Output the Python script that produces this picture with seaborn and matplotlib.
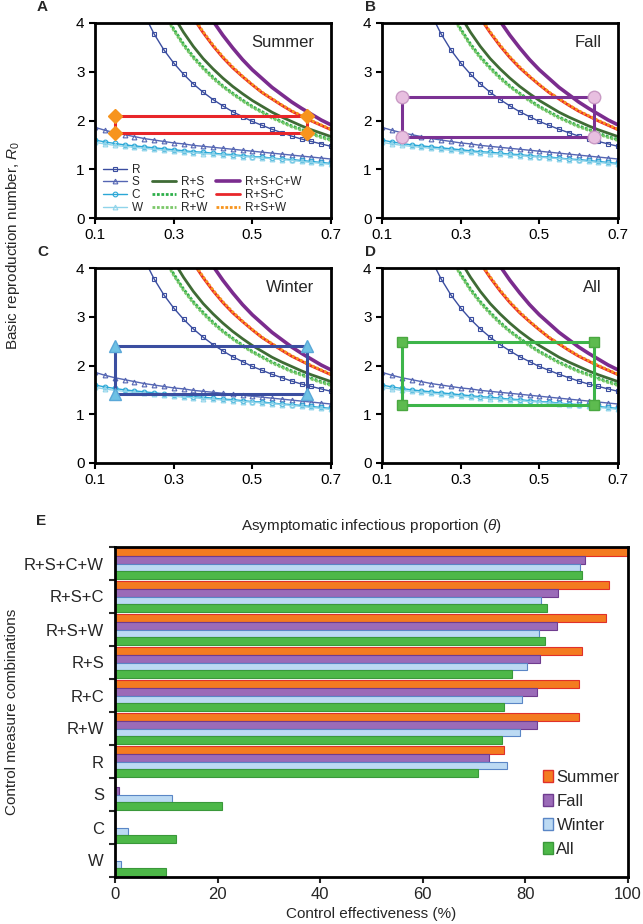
import numpy as np
import pandas as pd
import matplotlib
matplotlib.use("Agg")
from matplotlib import pyplot as plt
from matplotlib.lines import Line2D
import seaborn as sns

# ---- panels A-D: R0 against asymptomatic proportion ----
theta = [0.1, 0.125, 0.15, 0.175, 0.2, 0.225, 0.25, 0.275, 0.3, 0.325, 0.35, 0.375, 0.4,
         0.425, 0.45, 0.475, 0.5, 0.525, 0.55, 0.575, 0.6, 0.625, 0.65, 0.675, 0.7]
N = None
r_only = [N, N, N, N, N, 4.18, 3.78, 3.45, 3.18, 2.95, 2.75, 2.58, 2.43, 2.30, 2.18, 2.08, 1.98,
          1.90, 1.82, 1.75, 1.68, 1.62, 1.57, 1.52, 1.47]
s_only = [1.86, 1.80, 1.75, 1.71, 1.67, 1.63, 1.60, 1.57, 1.54, 1.52, 1.49, 1.47, 1.45, 1.43,
          1.41, 1.39, 1.37, 1.35, 1.33, 1.31, 1.29, 1.27, 1.25, 1.23, 1.21]
c_only = [1.60, 1.56, 1.53, 1.50, 1.48, 1.46, 1.44, 1.42, 1.40, 1.38, 1.36, 1.35, 1.33, 1.31,
          1.30, 1.28, 1.26, 1.25, 1.23, 1.21, 1.20, 1.18, 1.16, 1.14, 1.12]
w_only = [1.55, 1.52, 1.49, 1.47, 1.45, 1.43, 1.41, 1.39, 1.37, 1.35, 1.34, 1.32, 1.31, 1.29,
          1.28, 1.26, 1.25, 1.23, 1.22, 1.20, 1.18, 1.16, 1.14, 1.12, 1.10]
rs = [N] * 8 + [4.14, 3.81, 3.52, 3.27, 3.06, 2.87, 2.70, 2.55, 2.41, 2.29, 2.17, 2.07, 1.98,
                1.89, 1.81, 1.74, 1.67]
rc = [N] * 7 + [4.24, 3.88, 3.57, 3.31, 3.09, 2.89, 2.71, 2.56, 2.42, 2.29, 2.18, 2.07, 1.98,
                1.89, 1.82, 1.74, 1.67, 1.61]
rw = [N] * 7 + [4.20, 3.85, 3.54, 3.28, 3.06, 2.86, 2.69, 2.54, 2.40, 2.27, 2.16, 2.05, 1.96,
                1.87, 1.80, 1.72, 1.65, 1.59]
rsc = [N] * 10 + [4.10, 3.80, 3.53, 3.29, 3.08, 2.90, 2.73, 2.57, 2.44, 2.31, 2.19, 2.09, 1.99,
                  1.90, 1.81]
rsw = [N] * 10 + [4.12, 3.82, 3.55, 3.31, 3.10, 2.91, 2.74, 2.58, 2.45, 2.32, 2.20, 2.10, 2.00,
                  1.91, 1.82]
rscw = [N] * 12 + [4.04, 3.75, 3.49, 3.25, 3.04, 2.86, 2.68, 2.53, 2.38, 2.25, 2.13, 2.01, 1.91]

seasons = ["Summer", "Fall", "Winter", "All"]
panel_letters = ["A", "B", "C", "D"]
box_theta = [0.15, 0.64]
box_low = [1.74, 1.67, 1.42, 1.20]
box_high = [2.10, 2.48, 2.41, 2.48]

# ---- panel E: control effectiveness ----
combos = ["R+S+C+W", "R+S+C", "R+S+W", "R+S", "R+C", "R+W", "R", "S", "C", "W"]
eff_summer = [100, 96.2, 95.8, 91.0, 90.4, 90.4, 75.8, 0, 0, 0]
eff_fall = [91.7, 86.4, 86.2, 82.8, 82.3, 82.3, 72.9, 0.7, 0, 0]
eff_winter = [90.7, 83.0, 82.6, 80.4, 79.3, 79.0, 76.5, 11.2, 2.5, 1.2]
eff_all = [91.1, 84.3, 83.9, 77.4, 75.8, 75.4, 70.7, 20.8, 11.8, 9.9]

sns.set_style("ticks")
plt.rcParams["font.family"] = ["Liberation Sans", "DejaVu Sans"]
plt.rcParams["mathtext.fontset"] = "custom"
plt.rcParams["mathtext.it"] = "Liberation Sans:italic"
plt.rcParams["mathtext.rm"] = "Liberation Sans"

series = {"R": r_only, "S": s_only, "C": c_only, "W": w_only, "R+S": rs, "R+C": rc,
          "R+W": rw, "R+S+C": rsc, "R+S+W": rsw, "R+S+C+W": rscw}
df = pd.concat([pd.DataFrame({"theta": theta, "R0": vals, "combo": name})
                for name, vals in series.items()]).dropna()

dots = (0, (1, 0.6))
styles = {
    "R": dict(color="#3b4ea0", lw=1.0, marker="s", ms=3.2),
    "S": dict(color="#5566b3", lw=1.0, marker="^", ms=3.4),
    "C": dict(color="#2aa7d6", lw=1.0, marker="o", ms=3.4),
    "W": dict(color="#8fd4ea", lw=1.0, marker="^", ms=3.4),
    "R+S": dict(color="#3f6b35", lw=2.0, ls="-"),
    "R+C": dict(color="#2eaf4a", lw=2.0, ls=dots),
    "R+W": dict(color="#7cc86a", lw=2.0, ls=dots),
    "R+S+C": dict(color="#e8262a", lw=2.0, ls="-"),
    "R+S+W": dict(color="#f7941d", lw=2.0, ls=dots),
    "R+S+C+W": dict(color="#7b2c8e", lw=2.6, ls="-"),
}
box_styles = [
    dict(line="#e8262a", marker="D", mc="#f7941d", mec="#f7941d", ms=7),
    dict(line="#7b3294", marker="o", mc="#e8bfe0", mec="#c99ac4", ms=9),
    dict(line="#3b4ea0", marker="^", mc="#6ec1e4", mec="#5aa8d8", ms=8),
    dict(line="#3db54a", marker="s", mc="#5dbb4f", mec="#4aa840", ms=7),
]


def line_kws(name):
    st = dict(styles[name])
    kws = dict(color=st["color"], linewidth=st["lw"], linestyle=st.get("ls", "-"))
    if "marker" in st:
        kws.update(marker=st["marker"], markersize=st["ms"], markerfacecolor="none",
                   markeredgecolor=st["color"], markeredgewidth=0.8)
    return kws


W, H = 643, 924
fig = plt.figure(figsize=(W / 100, H / 100), dpi=100)
lefts = [95, 382, 95, 382]
bottoms = [218, 218, 463, 463]
letter_pos = [(37, 7), (365, 7), (37, 252), (365, 252)]
axes = []
for i in range(4):
    ax = fig.add_axes([lefts[i] / W, (H - bottoms[i]) / H, 236 / W, 195 / H])
    axes.append(ax)
    for name in series:
        sub = df[df.combo == name]
        sns.lineplot(data=sub, x="theta", y="R0", ax=ax, legend=False, **line_kws(name))
    bs = box_styles[i]
    x0, x1 = box_theta
    lo, hi = box_low[i], box_high[i]
    ax.plot([x0, x1, x1, x0, x0], [lo, lo, hi, hi, lo], color=bs["line"], lw=2.2, zorder=5)
    ax.plot([x0, x1, x1, x0], [lo, lo, hi, hi], ls="none", marker=bs["marker"],
            ms=bs["ms"], mfc=bs["mc"], mec=bs["mec"], zorder=6)
    ax.set_xlim(0.1, 0.7)
    ax.set_ylim(0, 4)
    ax.set_xticks([0.1, 0.3, 0.5, 0.7])
    ax.set_xticklabels(["0.1", "0.3", "0.5", "0.7"])
    ax.set_yticks([0, 1, 2, 3, 4])
    ax.set_xlabel("")
    ax.set_ylabel("")
    ax.tick_params(labelsize=11, width=1.5, length=4, direction="out", colors="black")
    for sp in ax.spines.values():
        sp.set_visible(True)
        sp.set_linewidth(2)
        sp.set_color("black")
    ax.text(0.93, 0.9, seasons[i], transform=ax.transAxes, ha="right", va="center", fontsize=12)
    lx, ly = letter_pos[i]
    fig.text(lx / W, 1 - ly / H, panel_letters[i], fontsize=11, fontweight="bold",
             ha="left", va="center")

# legend for panel A
blank = Line2D([], [], color="none")
h = {name: Line2D([], [], **line_kws(name)) for name in series}
handles = [h["R"], h["S"], h["C"], h["W"],
           blank, h["R+S"], h["R+C"], h["R+W"],
           blank, h["R+S+C+W"], h["R+S+C"], h["R+S+W"]]
labels = ["R", "S", "C", "W", "", "R+S", "R+C", "R+W", "", "R+S+C+W", "R+S+C", "R+S+W"]
axes[0].legend(handles, labels, ncol=3, loc="lower left", bbox_to_anchor=(0.0, -0.02),
               frameon=False, fontsize=8.5, handlelength=2.0, handletextpad=0.4,
               columnspacing=0.8, labelspacing=0.05, borderaxespad=0.3)

fig.text(13 / W, 1 - 245 / H, "Basic reproduction number, $R_0$", rotation=90,
         ha="center", va="center", fontsize=11)

# ---- panel E ----
axe = fig.add_axes([115 / W, (H - 877) / H, 513 / W, 330 / H])
long = pd.DataFrame({
    "combo": combos * 4,
    "season": [s for s in seasons for _ in combos],
    "eff": eff_summer + eff_fall + eff_winter + eff_all,
})
face = {"Summer": "#f47b20", "Fall": "#9b6bb8", "Winter": "#bcdaf3", "All": "#4db848"}
edge = {"Summer": "#e0302a", "Fall": "#6f3c8f", "Winter": "#5a86c6", "All": "#3a983a"}
sns.barplot(data=long, y="combo", x="eff", hue="season", order=combos, hue_order=seasons,
            palette=face, orient="h", width=0.92, ax=axe, saturation=1)
for cont, s in zip(axe.containers, seasons):
    for bar in cont:
        bar.set_edgecolor(edge[s])
        bar.set_linewidth(0.8)
axe.set_xlim(0, 100)
axe.set_ylim(len(combos) - 0.5, -0.5)
axe.set_xticks([0, 20, 40, 60, 80, 100])
axe.set_yticks(np.arange(len(combos)))
axe.set_yticklabels(combos)
axe.set_yticks(np.arange(len(combos) + 1) - 0.5, minor=True)
axe.tick_params(axis="y", which="major", length=0, labelsize=12, pad=8)
axe.tick_params(axis="y", which="minor", length=4, width=1.5, direction="out")
axe.tick_params(axis="x", labelsize=12, length=4, width=1.5, direction="out")
for sp in axe.spines.values():
    sp.set_visible(True)
    sp.set_linewidth(2)
    sp.set_color("black")
axe.set_xlabel("Control effectiveness (%)", fontsize=11, labelpad=3)
axe.set_ylabel("")
axe.set_title("Asymptomatic infectious proportion ($\\theta$)", fontsize=11, pad=12)
fig.text(12 / W, 1 - 712 / H, "Control measure combinations", rotation=90,
         ha="center", va="center", fontsize=11)
fig.text(36 / W, 1 - 521 / H, "E", fontsize=11, fontweight="bold", ha="left", va="center")
leg = axe.legend(loc="lower left", bbox_to_anchor=(0.815, 0.03), frameon=False, fontsize=12,
                 handlelength=0.6, handleheight=0.7, handletextpad=0.2, labelspacing=0.55,
                 borderaxespad=0.2)
for lh, s in zip(leg.legend_handles, seasons):
    lh.set_edgecolor(edge[s])

fig.savefig("out.png", dpi=100)
